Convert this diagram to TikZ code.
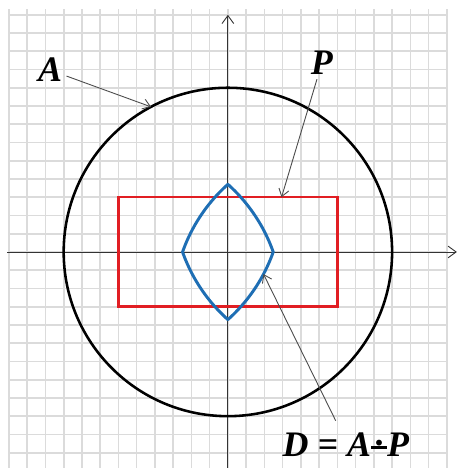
\documentclass[tikz,border=0pt]{standalone}
\usepackage{fontspec}
\setmainfont{Liberation Serif}
\usetikzlibrary{arrows.meta}
% minus sign with a dot above it
\newcommand{\dminus}{\mbox{\ooalign{\raisebox{0.21em}{\rule{0.45em}{0.075em}}\cr\hidewidth\upshape\raisebox{0.3em}{.}\hidewidth\cr}}}
\begin{document}
\begin{tikzpicture}[x=0.5cm, y=0.5cm,
  gridline/.style={gray!28, line width=1.3pt},
  axis/.style={gray!40!black, line width=0.7pt, -{Straight Barb[length=2.2mm,width=3.2mm]}},
  setA/.style={black, line width=2pt},
  setP/.style={draw={rgb,255:red,225;green,30;blue,35}, line width=1.9pt},
  setD/.style={draw={rgb,255:red,30;green,110;blue,180}, line width=2.3pt, line join=round},
  note/.style={gray!60!black, line width=0.7pt, -{Straight Barb[length=2mm,width=2.8mm]}},
  setlabel/.style={font=\fontsize{28}{32}\selectfont\bfseries\itshape}]
\useasboundingbox (-12.49,-11.84) rectangle (12.6,13.81);
% squared paper
\draw[gridline, step=1] (-12,-11.84) grid (12,13.3);
% axes
\draw[axis] (-12.1,0) -- (12.55,0);
\draw[axis] (0,-11.84) -- (0,13);
% disc A and box P
\draw[setA] (0,0) circle (9);
\draw[setP] (-6,-3) rectangle (6,3);
% D: arcs of radius 9 round the corners of P, mirrored
\draw[setD] plot[domain=19.47:48.19, samples=25] ({-6+9*cos(\x)},{-3+9*sin(\x)})
  -- plot[domain=131.81:160.53, samples=25] ({6+9*cos(\x)},{-3+9*sin(\x)})
  -- plot[domain=199.47:228.19, samples=25] ({6+9*cos(\x)},{3+9*sin(\x)})
  -- plot[domain=311.81:340.53, samples=25] ({-6+9*cos(\x)},{3+9*sin(\x)}) -- cycle;
% labels
\node[setlabel] (labA) at (-9.75,9.97) {A};
\node[setlabel] (labP) at (5.15,10.36) {P};
\node[setlabel] (labD) at (6.47,-10.55) {D = A\dminus P};
\coordinate (tipA) at (117.9:9);
\coordinate (tipP) at (2.94,3);
\coordinate (tipD) at (1.95,-1.21);
\draw[note] (labA) -- (tipA);
\draw[note] (labP) -- (tipP);
\draw[note] ([xshift=-0.28cm,yshift=0.2cm]labD.north) -- (tipD);
\end{tikzpicture}
\end{document}
